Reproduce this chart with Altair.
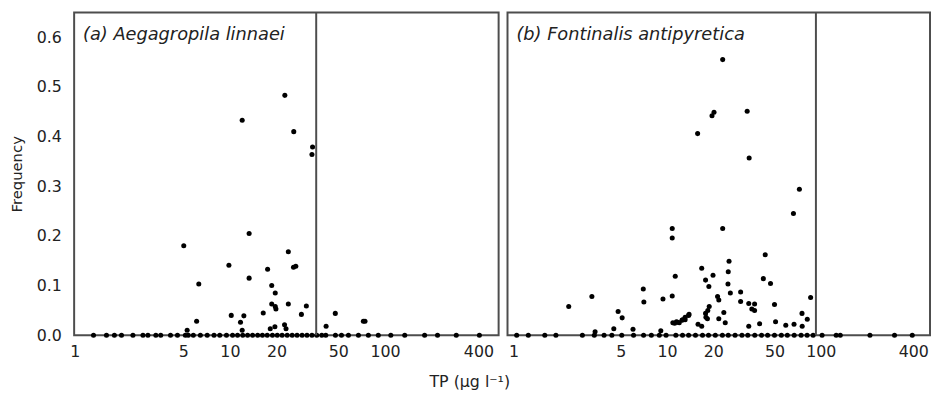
import altair as alt
import pandas as pd

# ---- Panel (a) Aegagropila linnaei: scattered non-zero points ----
a_tp = [22.6, 12.0, 25.8, 34.1, 33.8, 13.3, 5.04, 23.8, 9.85, 26.6, 25.7, 17.5,
        13.3, 6.3, 18.6, 19.6, 18.6, 19.6, 19.8, 23.8, 31.1, 10.2, 12.3, 11.7,
        16.4, 28.9, 6.1, 47.8, 41.7, 72.5, 74.3, 5.3, 19.5, 22.5, 23.0, 18.2, 12.0]
a_freq = [0.483, 0.433, 0.410, 0.379, 0.364, 0.205, 0.180, 0.168, 0.141, 0.139, 0.137, 0.133,
          0.115, 0.103, 0.100, 0.085, 0.063, 0.058, 0.053, 0.063, 0.059, 0.040, 0.039, 0.026,
          0.045, 0.042, 0.028, 0.044, 0.018, 0.028, 0.028, 0.010, 0.017, 0.021, 0.013, 0.013, 0.010]
# Panel (a) points at zero frequency
a_zero_tp = [1.32, 1.6, 1.8, 2.0, 2.37, 2.75, 2.96, 3.33, 3.58, 4.14, 4.59, 5.16, 5.39,
             5.81, 6.45, 7.14, 7.9, 8.6, 9.5, 10.4, 11.2, 12.1, 13.0, 14.0, 15.1, 16.2,
             17.4, 18.8, 20.2, 21.7, 23.4, 25.2, 27.1, 29.2, 31.4, 33.8, 36.3, 39.1,
             41.5, 47.9, 52.4, 58.1, 67.4, 78.1, 90.5, 109, 134, 180, 218, 288, 406]

# ---- Panel (b) Fontinalis antipyretica ----
b_tp = [10.8, 10.8, 11.3, 7.0, 3.24, 10.8, 9.4, 7.06, 2.29, 4.8, 5.1, 10.9, 11.5, 12.6,
        4.5, 3.4, 6.0, 9.1,
        23.0, 33.2, 20.2, 19.6, 15.8, 34.2, 72.6, 66.4, 23.0, 43.5, 25.3, 16.8, 25.0,
        19.9, 17.8, 42.3, 47.1, 18.7, 24.9, 30.1, 25.8, 21.3, 21.7, 85.9, 30.1, 34.0,
        37.1, 35.6, 37.1, 50.0, 18.8, 18.4, 17.8, 75.5, 23.4, 13.9, 81.7, 21.7, 17.9,
        18.3, 23.9, 50.8, 40.0, 34.0, 13.1, 12.5, 12.0, 15.9, 16.8, 67.0, 75.7, 59.2,
        13.8, 13.1, 11.7, 11.2]
b_freq = [0.215, 0.196, 0.119, 0.093, 0.078, 0.079, 0.073, 0.067, 0.058, 0.048, 0.035,
          0.025, 0.027, 0.031, 0.013, 0.007, 0.012, 0.009,
          0.555, 0.451, 0.449, 0.442, 0.406, 0.357, 0.294, 0.245, 0.215, 0.162, 0.149,
          0.135, 0.128, 0.121, 0.111, 0.114, 0.104, 0.098, 0.103, 0.087, 0.085, 0.078,
          0.071, 0.076, 0.068, 0.064, 0.063, 0.053, 0.050, 0.062, 0.058, 0.050, 0.044,
          0.044, 0.046, 0.042, 0.032, 0.033, 0.036, 0.033, 0.025, 0.027, 0.023, 0.018,
          0.036, 0.030, 0.025, 0.022, 0.018, 0.022, 0.018, 0.020,
          0.040, 0.031, 0.026, 0.024]
b_zero_tp = [1.05, 1.25, 1.6, 1.89, 2.81, 3.36, 3.89, 4.37, 5.07, 6.05, 7.03, 7.9, 8.9,
             9.85, 11.4, 12.6, 13.8, 15.3, 17.0, 18.6, 20.6, 22.9, 25.0, 27.7, 30.7,
             33.5, 37.2, 41.2, 45.1, 50.0, 55.4, 60.6, 67.2, 74.5, 81.5, 89.2, 102,
             126, 134, 209, 302, 394]

# thresholds (vertical lines)
a_threshold = [36.0]
b_threshold = [93.0]

x_ticks = [1, 5, 10, 20, 50, 100, 400]
y_ticks = [0.0, 0.1, 0.2, 0.3, 0.4, 0.5, 0.6]

FONT = "DejaVu Sans"
FRAME = "#4d4d4d"
TXT = "#222222"


def panel_df(tp, freq, zero_tp):
    return pd.DataFrame({
        "TP": list(tp) + list(zero_tp),
        "Freq": list(freq) + [0.0] * len(zero_tp),
    })


def make_panel(df, thr, title, xdomain, show_y, width):
    if show_y:
        yaxis = alt.Axis(values=y_ticks, format=".1f", title="Frequency",
                         labelFontSize=16, titleFontSize=15, titleFontWeight="normal",
                         labelFont=FONT, titleFont=FONT, labelColor=TXT,
                         titleColor=TXT, domain=False, ticks=False,
                         grid=False, labelPadding=13, titlePadding=12)
    else:
        yaxis = None
    x = alt.X("TP:Q", scale=alt.Scale(type="log", domain=xdomain, nice=False),
              axis=alt.Axis(values=x_ticks, format="d", title=None, labelFontSize=16,
                            labelFont=FONT, labelColor=TXT, domain=False,
                            ticks=False, grid=False, labelPadding=9,
                            labelFlush=False, labelOverlap=False))
    y = alt.Y("Freq:Q", scale=alt.Scale(domain=[0, 0.65], nice=False), axis=yaxis)
    pts = alt.Chart(df).mark_circle(size=26, color="black", opacity=1).encode(x=x, y=y)
    rule = alt.Chart(pd.DataFrame({"t": thr})).mark_rule(
        color=FRAME, strokeWidth=2).encode(
        x=alt.X("t:Q", scale=alt.Scale(type="log", domain=xdomain, nice=False)))
    txt = alt.Chart(pd.DataFrame({"label": [title]})).mark_text(
        align="left", baseline="middle", fontStyle="italic", fontSize=18,
        font=FONT, color=TXT).encode(
        x=alt.value(9), y=alt.value(23), text="label:N")
    return alt.layer(pts, rule, txt).properties(width=width, height=327)


left = make_panel(panel_df(a_tp, a_freq, a_zero_tp), a_threshold,
                  "(a) Aegagropila linnaei", [0.99, 540], True, 430)
right = make_panel(panel_df(b_tp, b_freq, b_zero_tp), b_threshold,
                   "(b) Fontinalis antipyretica", [0.915, 514], False, 428)

chart = alt.hconcat(left, right, spacing=7).resolve_scale(
    x="independent", y="independent").properties(
    title=alt.TitleParams("TP (µg l⁻¹)", orient="bottom", anchor="middle",
                          fontSize=16, font=FONT, fontWeight="normal", color=TXT, offset=13),
    padding={"left": 0, "top": 0, "right": 0, "bottom": 0},
).configure_view(stroke=FRAME, strokeWidth=2)

chart.save("out.html", embed_options={"renderer": "svg", "actions": False})
